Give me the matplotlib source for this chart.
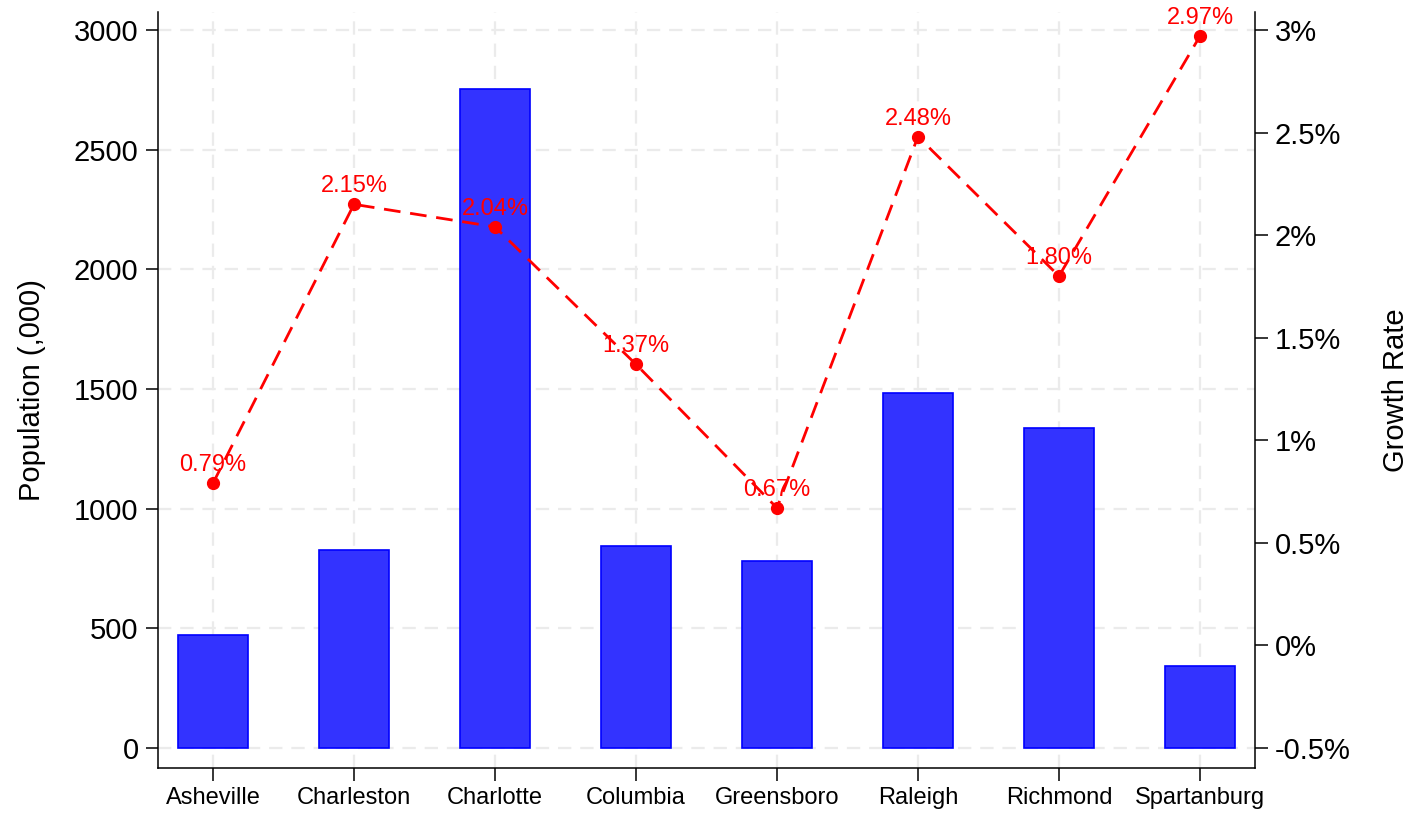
import numpy as np
import matplotlib
matplotlib.use('Agg')
import matplotlib.pyplot as plt
from matplotlib.ticker import FuncFormatter

plt.rcParams['font.family'] = ['Liberation Sans', 'DejaVu Sans']

# Данные
cities = ['Asheville', 'Charleston', 'Charlotte', 'Columbia',
          'Greensboro', 'Raleigh', 'Richmond', 'Spartanburg']
population = [472, 826, 2753, 845, 780, 1481, 1338, 344]
growth = [0.79, 2.15, 2.04, 1.37, 0.67, 2.48, 1.80, 2.97]
pop_ticks = [0, 500, 1000, 1500, 2000, 2500, 3000]
growth_ticks = [-0.5, 0, 0.5, 1, 1.5, 2, 2.5, 3]

fig = plt.figure(figsize=(14.08, 8.15), dpi=100)
ax1 = fig.add_axes([0.1122, 0.0577, 0.7791, 0.9276])
ax2 = ax1.twinx()

x = np.arange(len(cities))

# столбцы населения
ax1.bar(x, population, width=0.5, color='#3333ff', edgecolor='#0000ff',
        linewidth=1.2, zorder=3)
ax1.set_xlim(-0.39, len(cities) - 1 + 0.39)
ax1.set_ylim(-83.6, 3075)
ax1.set_yticks(pop_ticks)
ax1.set_xticks(x)
ax1.set_xticklabels(cities)
ax1.set_ylabel('Population (,000)', fontsize=21, labelpad=20)
ax1.grid(True, color='#ebebeb', linestyle=(0, (6, 4)), linewidth=1.6, zorder=0)
ax1.set_axisbelow(True)

# линия роста
ax2.plot(x, growth, color='#ff0000', linestyle=(0, (6, 3.5)), linewidth=2.0,
         marker='o', markersize=8.5, zorder=4)
for xi, g in zip(x, growth):
    ax2.annotate(f'{g:.2f}%', (xi, g), xytext=(0, 5), textcoords='offset points',
                 ha='center', va='bottom', color='#ff0000', fontsize=17)
ax2.set_ylim(-0.5975, 3.0875)
ax2.set_yticks(growth_ticks)
ax2.yaxis.set_major_formatter(FuncFormatter(lambda v, p: f'{v:g}%'))
ax2.set_ylabel('Growth Rate', fontsize=21, labelpad=23)

for ax in (ax1, ax2):
    ax.spines['top'].set_visible(False)
    for s in ax.spines.values():
        s.set_linewidth(1.1)
ax1.spines['right'].set_visible(False)
ax2.spines['left'].set_visible(False)
ax2.spines['bottom'].set_visible(False)

ax1.tick_params(axis='y', labelsize=21, length=9, width=1.1, pad=5)
ax1.tick_params(axis='x', labelsize=17, length=9, width=1.1, pad=5)
ax2.tick_params(axis='y', labelsize=21, length=9, width=1.1, pad=5)

fig.savefig('out.png', dpi=100)
